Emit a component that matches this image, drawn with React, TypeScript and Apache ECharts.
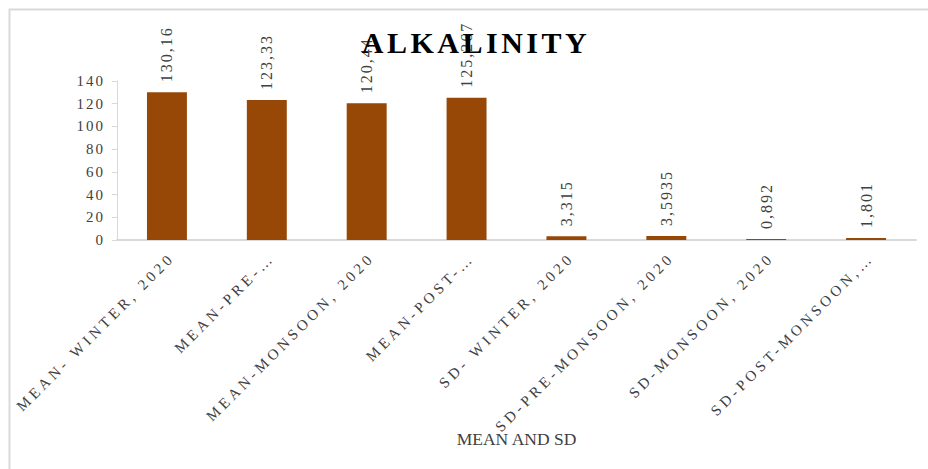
import React, { useEffect, useRef } from "react";
import * as echarts from "echarts";

const categories = [
  "MEAN- WINTER, 2020",
  "MEAN-PRE-MONSOON, 2020",
  "MEAN-MONSOON, 2020",
  "MEAN-POST-MONSOON, 2020",
  "SD- WINTER, 2020",
  "SD-PRE-MONSOON, 2020",
  "SD-MONSOON, 2020",
  "SD-POST-MONSOON, 2020",
];
const tickLabels = [
  "MEAN- WINTER, 2020",
  "MEAN-PRE-…",
  "MEAN-MONSOON, 2020",
  "MEAN-POST-…",
  "SD- WINTER, 2020",
  "SD-PRE-MONSOON, 2020",
  "SD-MONSOON, 2020",
  "SD-POST-MONSOON,…",
];
const values = [130.16, 123.33, 120.44, 125.267, 3.315, 3.5935, 0.892, 1.801];
const yTicks = [0, 20, 40, 60, 80, 100, 120, 140];

const SERIF = "'Liberation Serif', 'Times New Roman', serif";

export default function App() {
  const ref = useRef<HTMLDivElement>(null);
  useEffect(() => {
    if (!ref.current) return;
    const chart = echarts.init(ref.current, undefined, { renderer: "svg" });
    chart.setOption({
      animation: false,
      backgroundColor: "#ffffff",
      title: {
        text: "ALKALINITY",
        left: 471,
        top: 22,
        textAlign: "center",
        textStyle: {
          fontFamily: SERIF,
          fontWeight: "bold",
          fontSize: 30,
          color: "#000000",
        },
      },
      graphic: [
        {
          type: "rect",
          left: 7,
          top: 7,
          z: -10,
          shape: { x: 0, y: 0, width: 960, height: 500 },
          style: { fill: "none", stroke: "#d9d9d9", lineWidth: 2 },
          silent: true,
        },
      ],
      grid: { left: 117, right: 12, top: 81, bottom: 229, containLabel: false },
      xAxis: {
        type: "category",
        data: categories,
        name: "MEAN AND SD",
        nameLocation: "middle",
        nameGap: 190,
        nameTextStyle: { fontFamily: SERIF, fontSize: 17.5, color: "#404040" },
        axisLine: { show: true, lineStyle: { color: "#d9d9d9", width: 2 } },
        axisTick: { show: false },
        axisLabel: {
          interval: 0,
          rotate: 45,
          margin: 10,
          align: "right",
          verticalAlign: "top",
          fontFamily: SERIF,
          fontSize: 15,
          color: "#404040",
          formatter: (_v: string, i: number) => tickLabels[i],
        },
      },
      yAxis: {
        type: "value",
        min: yTicks[0],
        max: yTicks[yTicks.length - 1],
        interval: 20,
        axisLine: { show: true, lineStyle: { color: "#d9d9d9", width: 1 } },
        axisTick: { show: true, length: 5, lineStyle: { color: "#d9d9d9" } },
        splitLine: { show: false },
        axisLabel: {
          margin: 12,
          fontFamily: SERIF,
          fontSize: 15,
          color: "#404040",
        },
      },
      series: [
        {
          type: "bar",
          data: values,
          barWidth: "40%",
          itemStyle: { color: "#974706" },
          label: {
            show: true,
            position: "top",
            rotate: 90,
            align: "left",
            verticalAlign: "middle",
            distance: 10,
            fontFamily: SERIF,
            fontSize: 16,
            color: "#404040",
            formatter: (p: any) => String(p.value).replace(".", ","),
          },
        },
      ],
    });
    const svg = ref.current.querySelector("svg");
    if (svg) {
      const valueTexts = values.map((v) => String(v).replace(".", ","));
      svg.querySelectorAll("text").forEach((t) => {
        const s = t.textContent || "";
        if (tickLabels.includes(s)) t.setAttribute("letter-spacing", "3.8");
        else if (s === "ALKALINITY") t.setAttribute("letter-spacing", "3.5");
        else if (valueTexts.includes(s)) t.setAttribute("letter-spacing", "2");
        else if (yTicks.map(String).includes(s)) t.setAttribute("letter-spacing", "2");
      });
    }
    return () => chart.dispose();
  }, []);
  return (
    <div
      ref={ref}
      style={{ position: "fixed", left: 0, top: 0, width: 928, height: 469 }}
    />
  );
}
